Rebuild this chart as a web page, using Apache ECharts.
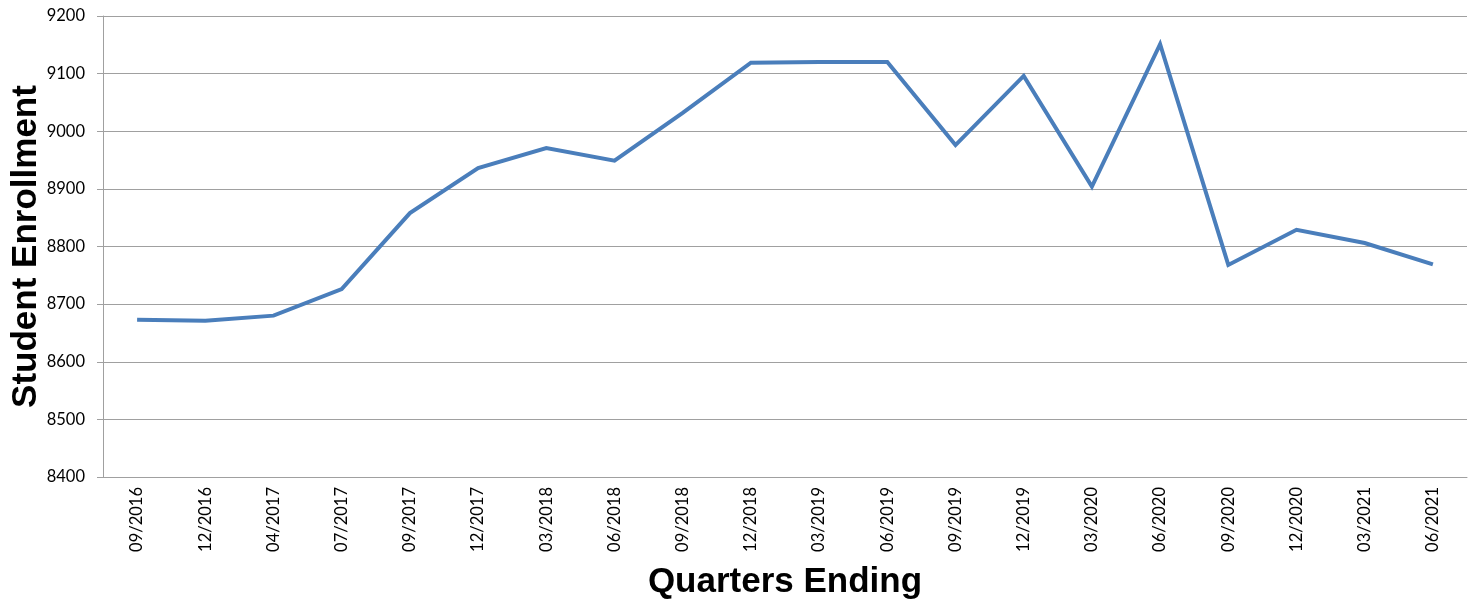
<!DOCTYPE html>
<html>
<head>
<meta charset="utf-8">
<script src="https://cdn.jsdelivr.net/npm/echarts@6/dist/echarts.min.js"></script>
<style>html,body{margin:0;padding:0;background:#fff}#c{width:1473px;height:603px}</style>
</head>
<body>
<div id="c"></div>
<script>
const categories = ["09/2016","12/2016","04/2017","07/2017","09/2017","12/2017","03/2018","06/2018","09/2018","12/2018","03/2019","06/2019","09/2019","12/2019","03/2020","06/2020","09/2020","12/2020","03/2021","06/2021"];
const enrollment = [8673,8671,8680,8726,8858,8936,8971,8949,9032,9119,9120,9120,8976,9096,8904,9151,8768,8829,8806,8769];
const yMin = 8400, yMax = 9200, yStep = 100;

const chart = echarts.init(document.getElementById('c'));
chart.setOption({
  animation: false,
  grid: {left: 103, right: 6, top: 16, bottom: 126, containLabel: false, outerBoundsMode: 'none'},
  xAxis: {
    type: 'category',
    data: categories,
    boundaryGap: true,
    axisLine: {show: true, lineStyle: {color: '#a0a0a0', width: 1}},
    axisTick: {show: false},
    axisLabel: {rotate: 90, color: '#000', fontFamily: 'Lato, "Open Sans", sans-serif', fontSize: 16.5, margin: 10, interval: 0},
    name: 'Quarters Ending',
    nameLocation: 'middle',
    nameGap: 88,
    nameMoveOverlap: false,
    nameTextStyle: {fontFamily: '"Liberation Sans", Arial, sans-serif', fontWeight: 'bold', fontSize: 35, color: '#000'}
  },
  yAxis: {
    type: 'value',
    min: yMin, max: yMax, interval: yStep,
    axisLine: {show: true, lineStyle: {color: '#a0a0a0', width: 1}},
    axisTick: {show: true, length: 6, lineStyle: {color: '#a0a0a0'}},
    splitLine: {show: true, lineStyle: {color: '#a0a0a0', width: 1}},
    axisLabel: {color: '#000', fontFamily: 'Lato, "Open Sans", sans-serif', fontSize: 16.5, margin: 18, formatter: v => String(v)},
    name: 'Student Enrollment',
    nameLocation: 'middle',
    nameGap: 59,
    nameRotate: 90,
    nameMoveOverlap: false,
    nameTextStyle: {fontFamily: '"Liberation Sans", Arial, sans-serif', fontWeight: 'bold', fontSize: 35, color: '#000'}
  },
  series: [{
    type: 'line',
    data: enrollment,
    symbol: 'none',
    lineStyle: {color: '#4a7ebb', width: 4, join: 'miter'},
    itemStyle: {color: '#4a7ebb'}
  }]
});
</script>
</body>
</html>
